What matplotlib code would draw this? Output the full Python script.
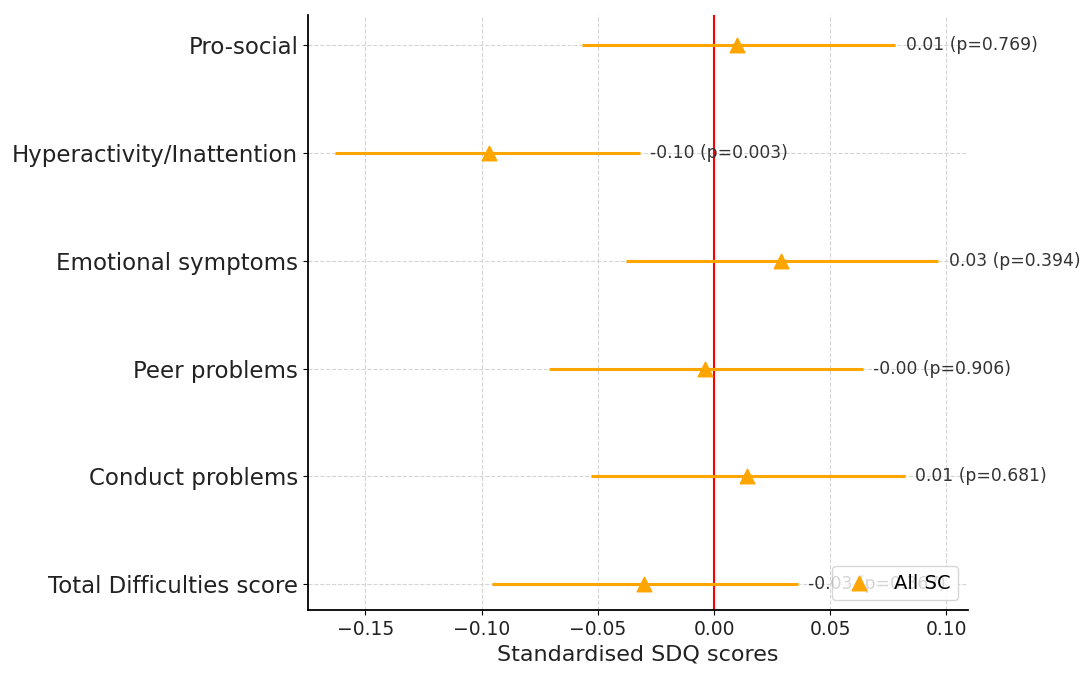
import matplotlib
matplotlib.use('Agg')
import matplotlib.pyplot as plt

# SDQ subscales, bottom to top
outcomes = ['Total Difficulties score', 'Conduct problems', 'Peer problems',
            'Emotional symptoms', 'Hyperactivity/Inattention', 'Pro-social']
estimates = [-0.030, 0.014, -0.004, 0.029, -0.097, 0.010]
ci_low = [-0.0955, -0.053, -0.071, -0.038, -0.163, -0.057]
ci_high = [0.036, 0.082, 0.064, 0.0965, -0.032, 0.078]
p_values = [0.367, 0.681, 0.906, 0.394, 0.003, 0.769]
x_ticks = [-0.15, -0.10, -0.05, 0.00, 0.05, 0.10]

fig = plt.figure(figsize=(10.82, 6.73), dpi=100)
ax = fig.add_axes([0.2847, 0.0936, 0.61, 0.884])

ypos = list(range(len(outcomes)))
ax.hlines(ypos, ci_low, ci_high, color='orange', lw=2.2, zorder=3)
ax.scatter(estimates, ypos, marker='^', color='orange', s=110, zorder=4, label='All SC')

for y, est, hi, p in zip(ypos, estimates, ci_high, p_values):
    ax.text(hi + 0.0045, y, f'{est:.2f} (p={p:.3f})', va='center', ha='left',
            fontsize=12.3, color='#333333')

ax.axvline(0, color='red', lw=1.5, zorder=2)

ax.set_yticks(ypos)
ax.set_yticklabels(outcomes, fontsize=16.5, color='#222222')
ax.set_xticks(x_ticks)
ax.set_xticklabels([f'{t:.2f}'.replace('-', '\u2212') for t in x_ticks], fontsize=13.5,
                   color='#222222')
ax.set_xlim(-0.1747, 0.1093)
ax.set_ylim(-0.24, 5.28)
ax.set_xlabel('Standardised SDQ scores', fontsize=16, color='#222222')
ax.grid(True, linestyle='--', color='#d5d5d5', lw=0.8)
ax.set_axisbelow(True)
ax.spines['top'].set_visible(False)
ax.spines['right'].set_visible(False)
ax.spines['left'].set_linewidth(1.3)
ax.spines['bottom'].set_linewidth(1.3)

ax.legend(loc='lower right', fontsize=14, borderpad=0.4)

fig.savefig('out.png', dpi=100)
